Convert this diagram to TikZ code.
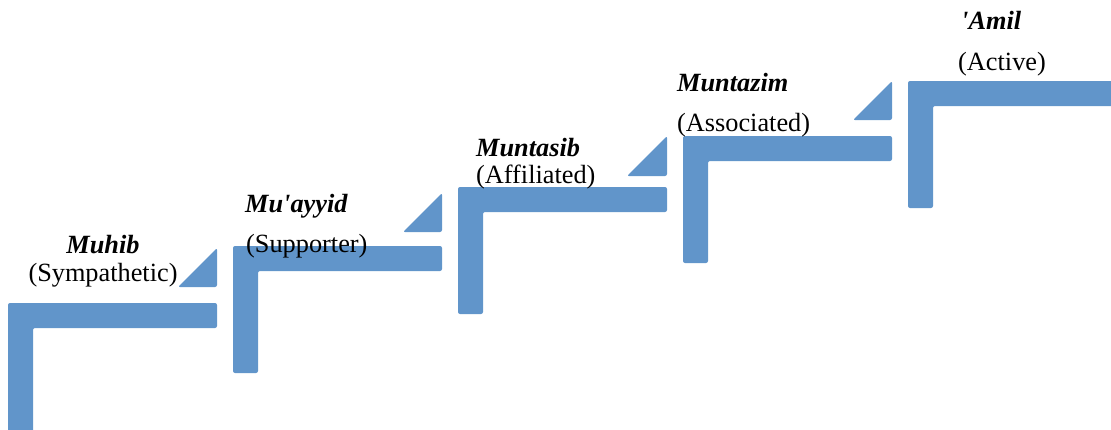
\documentclass[tikz,border=0pt]{standalone}
\usepackage{fontspec}
\setmainfont{Liberation Serif}
\definecolor{stepblue}{RGB}{97,149,202}
\tikzset{
  stepfill/.style={fill=stepblue, rounded corners=2pt},
  nametext/.style={font=\fontsize{26.3}{30}\selectfont\bfseries\itshape, inner sep=0pt},
  desctext/.style={font=\fontsize{26.3}{30}\selectfont, inner sep=0pt}
}
\newcommand{\Lstep}[4]{% x0, ytop, x1, ybottom
  \fill[stepfill] (#1,#2) -- (#3,#2) -- (#3,#2+25) -- (#1+25,#2+25) -- (#1+25,#4) -- (#1,#4) -- cycle;}
\newcommand{\Tristep}[3]{% xright, ybottom, size
  \fill[stepfill] (#1-#3,#2) -- (#1,#2) -- (#1,#2-#3) -- cycle;}
\begin{document}
\begin{tikzpicture}[x=1pt,y=-1pt]
\useasboundingbox (0,0) rectangle (1111,429);
\clip (0,0) rectangle (1111,429);
% stairs
\Lstep{8}{303}{217}{440}
\Tristep{217}{287}{39}
\Lstep{233}{246}{442}{373}
\Tristep{442}{232}{39}
\Lstep{458}{187}{667}{314}
\Tristep{667}{176}{40}
\Lstep{683}{136}{892}{263}
\Tristep{892}{120}{39}
\Lstep{908}{81}{1125}{208}
% labels
\node[nametext, anchor=base] (n1) at (103,253) {Muhib};
\node[desctext, anchor=base] (d1) at (103,281) {(Sympathetic)};
\node[nametext, anchor=base west] (n2) at (245,212) {Mu\textquotesingle ayyid};
\node[desctext, anchor=base west] (d2) at (246,252) {(Supporter)};
\node[nametext, anchor=base west] (n3) at (476,156) {Muntasib};
\node[desctext, anchor=base west] (d3) at (476,183) {(Affiliated)};
\node[nametext, anchor=base west] (n4) at (677,91) {Muntazim};
\node[desctext, anchor=base west] (d4) at (677,131) {(Associated)};
\node[nametext, anchor=base west] (n5) at (961,29) {\textquotesingle Amil};
\node[desctext, anchor=base west] (d5) at (958,70) {(Active)};
\end{tikzpicture}
\end{document}
